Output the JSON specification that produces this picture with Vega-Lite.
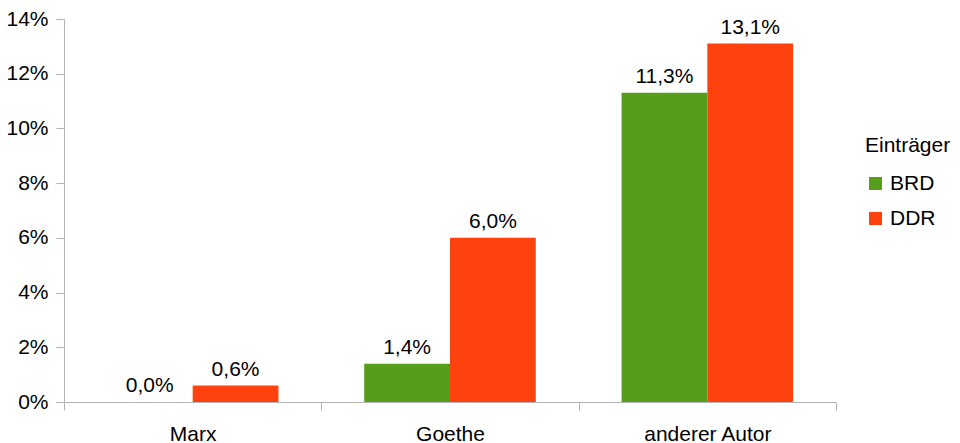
{
  "$schema": "https://vega.github.io/schema/vega-lite/v6.json",
  "width": 772,
  "height": 383,
  "autosize": {"type": "none"},
  "padding": {"left": 64, "top": 19, "right": 124, "bottom": 41},
  "background": "white",
  "config": {
    "locale": {"number": {"decimal": ",", "thousands": ".", "grouping": [3], "currency": ["", " €"]}},
    "font": "Liberation Sans",
    "view": {"stroke": null}
  },
  "data": {
    "values": [
      {"autor": "Marx", "eintraeger": "BRD", "anteil": 0.0},
      {"autor": "Marx", "eintraeger": "DDR", "anteil": 0.006},
      {"autor": "Goethe", "eintraeger": "BRD", "anteil": 0.014},
      {"autor": "Goethe", "eintraeger": "DDR", "anteil": 0.06},
      {"autor": "anderer Autor", "eintraeger": "BRD", "anteil": 0.113},
      {"autor": "anderer Autor", "eintraeger": "DDR", "anteil": 0.131}
    ]
  },
  "encoding": {
    "x": {
      "field": "autor", "type": "nominal", "sort": ["Marx", "Goethe", "anderer Autor"],
      "scale": {"paddingInner": 0, "paddingOuter": 0},
      "axis": {
        "title": null, "labelAngle": 0, "labelFontSize": 21, "labelColor": "#000000",
        "labelPadding": 13, "tickBand": "extent", "domainColor": "#b3b3b3",
        "tickColor": "#b3b3b3", "tickSize": 8, "labelFont": "Liberation Sans"
      }
    },
    "xOffset": {
      "field": "eintraeger", "type": "nominal", "sort": ["BRD", "DDR"],
      "scale": {"paddingInner": 0, "paddingOuter": 0.5}
    },
    "y": {
      "field": "anteil", "type": "quantitative",
      "scale": {"domain": [0, 0.14]},
      "axis": {
        "title": null, "format": ".0%", "values": [0, 0.02, 0.04, 0.06, 0.08, 0.1, 0.12, 0.14],
        "grid": false, "labelFontSize": 21, "labelColor": "#000000", "labelPadding": 8,
        "domainColor": "#b3b3b3", "tickColor": "#b3b3b3", "tickSize": 8, "labelFont": "Liberation Sans"
      }
    }
  },
  "layer": [
    {
      "mark": {"type": "bar"},
      "encoding": {
        "color": {
          "field": "eintraeger", "type": "nominal",
          "scale": {"domain": ["BRD", "DDR"], "range": ["#579d1c", "#ff420e"]},
          "legend": {
            "title": "Einträger", "orient": "none", "legendX": 801, "legendY": 116,
            "titleFontSize": 21, "titleFontWeight": "normal", "titleColor": "#000000",
            "titleFont": "Liberation Sans", "titlePadding": 17,
            "labelFontSize": 21, "labelColor": "#000000", "labelFont": "Liberation Sans",
            "symbolType": "square", "symbolSize": 169, "symbolStrokeWidth": 0,
            "rowPadding": 13, "labelOffset": 4, "offset": 0
          }
        }
      }
    },
    {
      "mark": {"type": "text", "baseline": "alphabetic", "dy": -10, "fontSize": 21, "color": "#000000", "font": "Liberation Sans"},
      "encoding": {
        "text": {"field": "anteil", "type": "quantitative", "format": ".1%"}
      }
    }
  ]
}
